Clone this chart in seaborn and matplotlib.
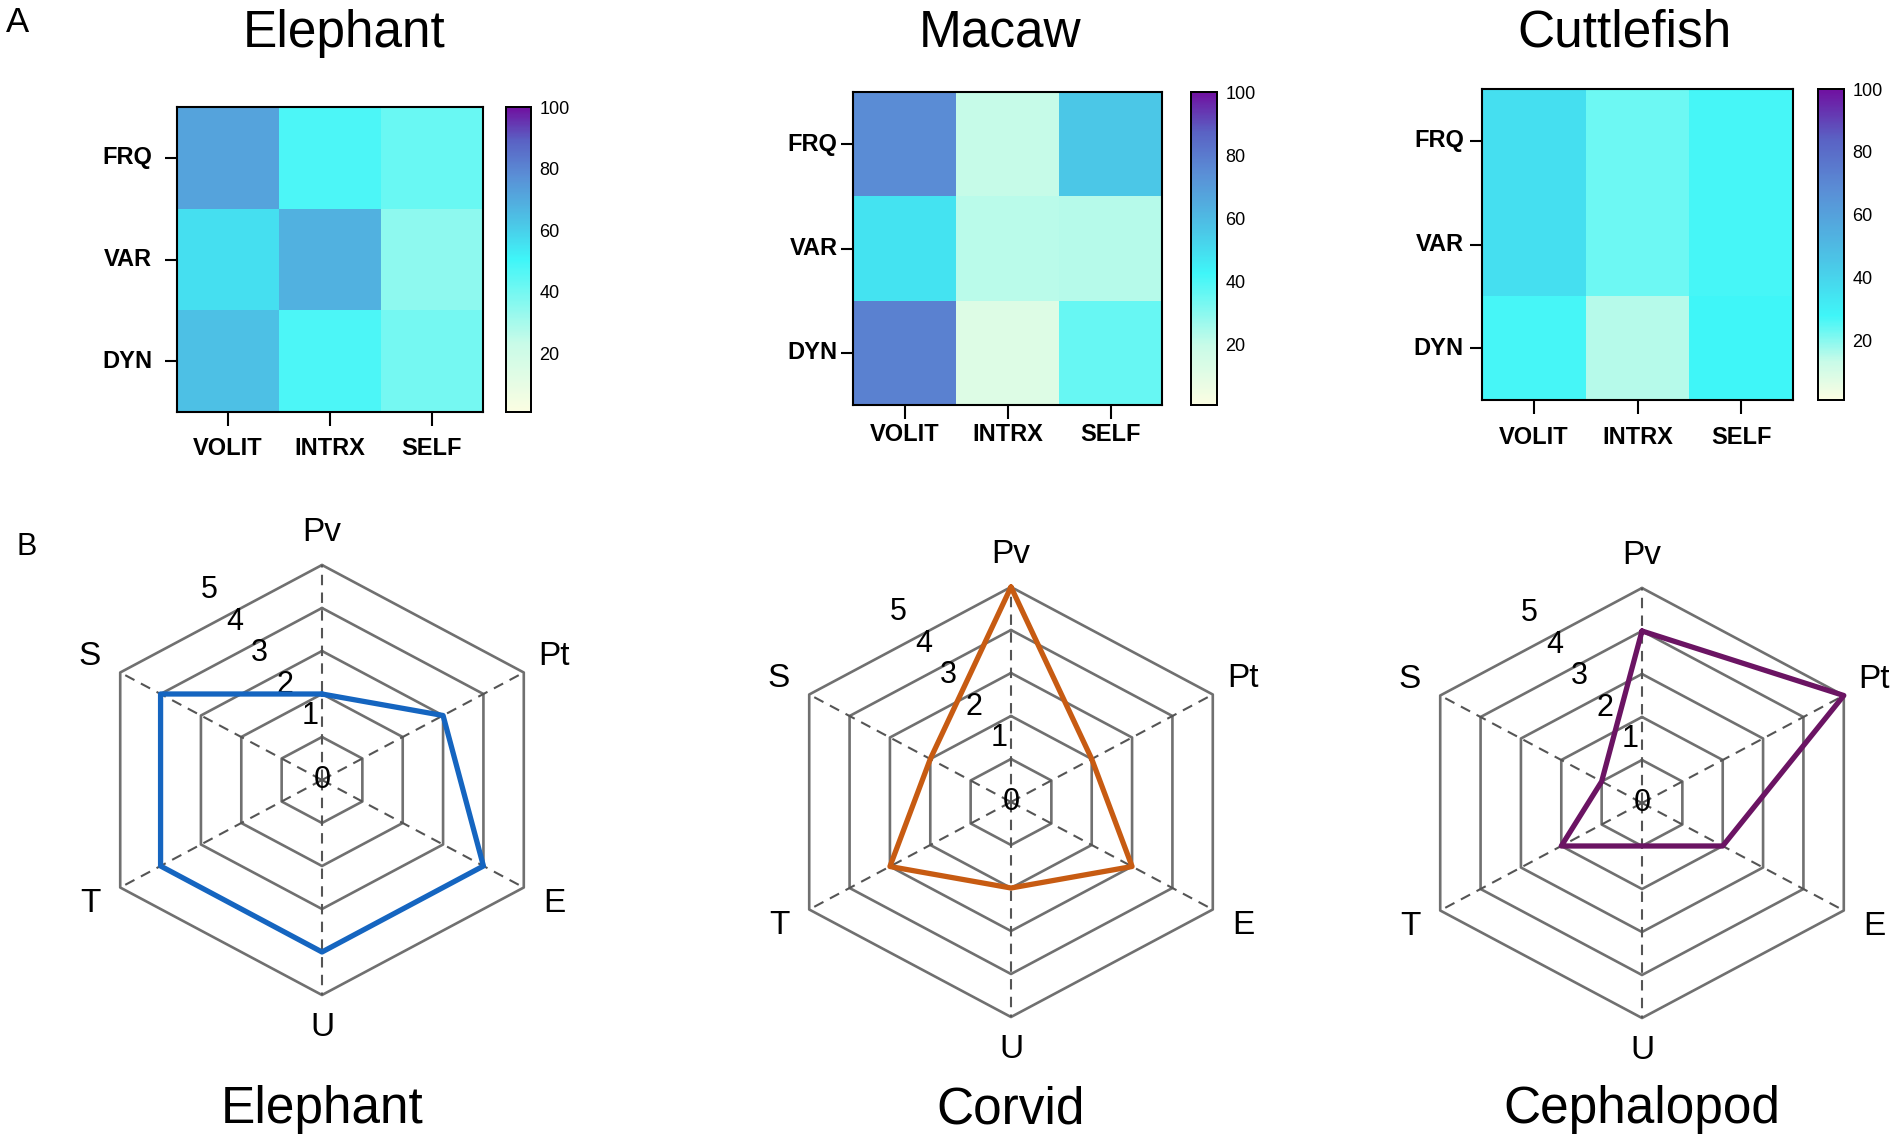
import numpy as np
import pandas as pd
import matplotlib
matplotlib.use("Agg")
import matplotlib.pyplot as plt
import seaborn as sns
from matplotlib.colors import LinearSegmentedColormap

sns.set_style("white")
plt.rcParams['font.family'] = ['Liberation Sans', 'DejaVu Sans']
plt.rcParams['text.color'] = 'black'
plt.rcParams['xtick.color'] = 'black'
plt.rcParams['ytick.color'] = 'black'
plt.rcParams['axes.labelcolor'] = 'black'

########## data ##########
rows = ["FRQ", "VAR", "DYN"]
cols = ["VOLIT", "INTRX", "SELF"]
elephant_vals = [[72, 48, 42], [56, 68, 35], [64, 48, 40]]
macaw_vals = [[75, 20, 56], [48, 22, 23], [78, 12, 36]]
cuttle_vals = [[36, 23, 27], [36, 23, 27], [27, 15, 28]]
heat_titles = ["Elephant", "Macaw", "Cuttlefish"]
cbar_ticks = [20, 40, 60, 80, 100]
# position of the bright cyan stop in each panel's colour scale
cyan_pos = [0.50, 0.42, 0.27]

axis_labels = ["Pv", "Pt", "E", "U", "T", "S"]
elephant_radar = [2, 3, 4, 4, 4, 4]
corvid_radar = [5, 2, 3, 2, 3, 2]
cephalopod_radar = [4, 5, 2, 1, 2, 1]
radar_titles = ["Elephant", "Corvid", "Cephalopod"]
radar_colors = ["#1565c0", "#c75b12", "#6b1463"]
ring_levels = [1, 2, 3, 4, 5]

W, H = 1902, 1146
fig = plt.figure(figsize=(W / 100, H / 100), dpi=100)


def px_axes(x0, y0, x1, y1, **kw):
    return fig.add_axes([x0 / W, 1 - y1 / H, (x1 - x0) / W, (y1 - y0) / H], **kw)


def make_cmap(c):
    stops = [(0.0, "#fbfde2"), (c * 0.45, "#c8fbe8"), (c, "#3ff6f8"),
             (c + (1 - c) * 0.25, "#4cc4e6"), (c + (1 - c) * 0.55, "#5a8fd6"),
             (c + (1 - c) * 0.78, "#5a62c4"), (1.0, "#7010a0")]
    return LinearSegmentedColormap.from_list("cm", stops)


########## A: heatmaps ##########
heat_boxes = [(177, 107, 483, 412), (853, 92, 1162, 405), (1482, 89, 1793, 400)]
cbar_boxes = [(506, 107, 531, 412), (1191, 92, 1217, 405), (1818, 89, 1844, 400)]
title_x = [344, 1000, 1625]
ypads = [9, 2, 4]
xpads = [8, 3, 9]

for i, vals in enumerate([elephant_vals, macaw_vals, cuttle_vals]):
    df = pd.DataFrame(vals, index=rows, columns=cols)
    ax = px_axes(*heat_boxes[i])
    cax = px_axes(*cbar_boxes[i])
    sns.heatmap(df, ax=ax, cmap=make_cmap(cyan_pos[i]), vmin=1, vmax=100,
                cbar_ax=cax, linewidths=0)
    for s in ax.spines.values():
        s.set_visible(True)
        s.set_color("black")
        s.set_linewidth(1.5)
    ax.tick_params(axis='y', length=9, width=1.5, color='black', left=True,
                   pad=ypads[i], labelsize=17, rotation=0)
    ax.tick_params(axis='x', length=10, width=1.5, color='black', bottom=True,
                   pad=xpads[i], labelsize=17, rotation=0)
    for lab in ax.get_xticklabels() + ax.get_yticklabels():
        lab.set_fontweight('bold')
    ax.set_xlabel("")
    ax.set_ylabel("")

    cax.set_yticks(cbar_ticks)
    cax.tick_params(axis='y', direction='in', left=True, right=True, length=4,
                    width=1.3, color='black', labelsize=13, pad=6)
    for s in cax.spines.values():
        s.set_visible(True)
        s.set_color("black")
        s.set_linewidth(1.3)
    cbar = ax.collections[0].colorbar
    cbar.outline.set_edgecolor("black")
    cbar.outline.set_linewidth(1.3)

    fig.text(title_x[i] / W, 1 - 33 / H, heat_titles[i], fontsize=37,
             ha='center', va='center')

########## B: radar charts ##########
centers = [(322, 780), (1011, 802), (1642, 803)]
RX, RY = 233, 215
theta = np.linspace(0, 2 * np.pi, len(axis_labels), endpoint=False)
theta_closed = np.append(theta, theta[0])

for i, vals in enumerate([elephant_radar, corvid_radar, cephalopod_radar]):
    cx, cy = centers[i]
    ax = px_axes(cx - RX, cy - RY, cx + RX, cy + RY, projection='polar')
    ax.set_theta_zero_location('N')
    ax.set_theta_direction(-1)
    ax.set_ylim(0, 5)
    ax.set_aspect('auto')
    ax.grid(False)
    ax.spines['polar'].set_visible(False)
    ax.set_xticks([])
    ax.set_yticks([])
    ax.patch.set_alpha(0)

    for k in ring_levels:
        ax.plot(theta_closed, [k] * len(theta_closed), color="#707070", lw=1.9,
                clip_on=False, zorder=1)
    for t in theta:
        ax.plot([t, t], [0, 5], color="#555555", lw=1.5, ls=(0, (5, 3.5)),
                clip_on=False, zorder=1)

    sns.lineplot(x=theta_closed, y=np.append(vals, vals[0]), sort=False,
                 estimator=None, ax=ax, color=radar_colors[i], lw=3.8, zorder=3)
    for line in ax.lines:
        line.set_clip_on(False)

    for t, lab in zip(theta, axis_labels):
        ax.text(t, 5.75, lab, fontsize=24, ha='center', va='center')

    # ring numbers along the upper-left diagonal
    ax.text(0.5, 0.5, "0", transform=ax.transAxes, fontsize=22,
            ha='center', va='center', zorder=2)
    for k in ring_levels:
        ax.text(0.474 - 0.054 * (k - 1), 0.649 + 0.073 * (k - 1), str(k),
                transform=ax.transAxes, fontsize=22, ha='center', va='center',
                zorder=2)

    fig.text(cx / W, 1 - 1110 / H, radar_titles[i], fontsize=37,
             ha='center', va='center')

fig.text(18 / W, 1 - 22 / H, "A", fontsize=25, ha='center', va='center')
fig.text(27 / W, 1 - 547 / H, "B", fontsize=22, ha='center', va='center')

fig.savefig("out.png", dpi=100, facecolor='white')
